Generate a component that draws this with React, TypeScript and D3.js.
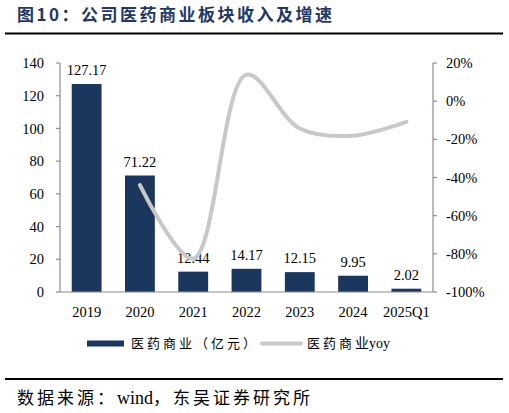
import { useRef, useEffect } from "react";
import * as d3 from "d3";

const categories = ["2019", "2020", "2021", "2022", "2023", "2024", "2025Q1"];
const revenue = [127.17, 71.22, 12.44, 14.17, 12.15, 9.95, 2.02];
const yoy: (number | null)[] = [null, -0.44, -0.825, 0.139, -0.143, -0.181, -0.108];
const leftTicks = [0, 20, 40, 60, 80, 100, 120, 140];
const rightTicks = [-1, -0.8, -0.6, -0.4, -0.2, 0, 0.2];

const W = 509;
const H = 413;
const BAR = "#1c375d";
const LINE = "#c8c8c8";
const AXIS = "#8c8c8c";
const NUM_FONT = "'Liberation Serif', 'Times New Roman', serif";
const CJK_FONT = "'Noto Sans CJK SC', sans-serif";
const MIX_FONT = "'Liberation Serif', 'Noto Sans CJK SC', serif";

export default function App() {
  const svgRef = useRef<SVGSVGElement>(null);

  useEffect(() => {
    if (!svgRef.current) return;
    const svg = d3.select(svgRef.current);
    svg.selectAll("*").remove();

    const plot = { left: 60, right: 433, top: 63, bottom: 292 };

    const x = d3.scaleBand<string>()
      .domain(categories)
      .range([plot.left, plot.right])
      .paddingInner(0.44)
      .paddingOuter(0.22);
    const yL = d3.scaleLinear().domain([0, 140]).range([plot.bottom, plot.top]);
    const yR = d3.scaleLinear().domain([-1, 0.2]).range([plot.bottom, plot.top]);

    // title
    svg.append("text")
      .attr("x", 17)
      .attr("y", 21)
      .attr("font-family", CJK_FONT)
      .attr("font-weight", "bold")
      .attr("font-size", 17)
      .attr("letter-spacing", 2.5)
      .attr("fill", "#1f3864")
      .text("图10：公司医药商业板块收入及增速");

    svg.append("line")
      .attr("x1", 5).attr("x2", 503)
      .attr("y1", 33.5).attr("y2", 33.5)
      .attr("stroke", "#000").attr("stroke-width", 2);

    // bars
    const g = svg.append("g");
    g.selectAll("rect.bar")
      .data(revenue)
      .join("rect")
      .attr("class", "bar")
      .attr("x", (_, i) => x(categories[i])!)
      .attr("y", (d) => yL(d))
      .attr("width", x.bandwidth())
      .attr("height", (d) => yL(0) - yL(d))
      .attr("fill", BAR);

    // bar labels
    g.selectAll("text.lbl")
      .data(revenue)
      .join("text")
      .attr("class", "lbl")
      .attr("x", (_, i) => x(categories[i])! + x.bandwidth() / 2)
      .attr("y", (d) => yL(d) - 9)
      .attr("text-anchor", "middle")
      .attr("font-family", NUM_FONT)
      .attr("font-size", 14.5)
      .attr("fill", "#000")
      .text((d) => d.toFixed(2));

    // yoy line
    const pts = yoy
      .map((v, i) => ({ v, c: categories[i] }))
      .filter((d) => d.v !== null) as { v: number; c: string }[];
    const line = d3.line<{ v: number; c: string }>()
      .x((d) => x(d.c)! + x.bandwidth() / 2)
      .y((d) => yR(d.v))
      .curve(d3.curveCatmullRom.alpha(0.5));
    g.append("path")
      .datum(pts)
      .attr("d", line)
      .attr("fill", "none")
      .attr("stroke", LINE)
      .attr("stroke-width", 4)
      .attr("stroke-linecap", "round");

    // axes
    const axisLine = (x1: number, y1: number, x2: number, y2: number) =>
      g.append("line")
        .attr("x1", x1).attr("y1", y1).attr("x2", x2).attr("y2", y2)
        .attr("stroke", AXIS).attr("stroke-width", 1.2);

    axisLine(plot.left, plot.top, plot.left, plot.bottom);
    axisLine(plot.right, plot.top, plot.right, plot.bottom);
    axisLine(plot.left, plot.bottom, plot.right, plot.bottom);

    leftTicks.forEach((t) => {
      axisLine(plot.left - 4, yL(t), plot.left, yL(t));
      g.append("text")
        .attr("x", 44)
        .attr("y", yL(t))
        .attr("dy", "0.35em")
        .attr("text-anchor", "end")
        .attr("font-family", NUM_FONT)
        .attr("font-size", 14.5)
        .attr("fill", "#000")
        .text(t);
    });

    rightTicks.forEach((t) => {
      axisLine(plot.right, yR(t), plot.right + 4, yR(t));
      g.append("text")
        .attr("x", 446)
        .attr("y", yR(t))
        .attr("dy", "0.35em")
        .attr("font-family", NUM_FONT)
        .attr("font-size", 14.5)
        .attr("fill", "#000")
        .text(`${Math.round(t * 100)}%`);
    });

    categories.forEach((c) => {
      g.append("text")
        .attr("x", x(c)! + x.bandwidth() / 2)
        .attr("y", 317)
        .attr("text-anchor", "middle")
        .attr("font-family", NUM_FONT)
        .attr("font-size", 14.5)
        .attr("fill", "#000")
        .text(c);
    });

    // legend
    const lg = svg.append("g");
    lg.append("rect")
      .attr("x", 87).attr("y", 340.5)
      .attr("width", 37).attr("height", 6)
      .attr("fill", BAR);
    lg.append("text")
      .attr("x", 131).attr("y", 348)
      .attr("font-family", CJK_FONT)
      .attr("font-size", 13)
      .attr("letter-spacing", 3)
      .attr("fill", "#000")
      .text("医药商业（亿元）");
    lg.append("line")
      .attr("x1", 262).attr("x2", 301)
      .attr("y1", 343.5).attr("y2", 343.5)
      .attr("stroke", LINE).attr("stroke-width", 4)
      .attr("stroke-linecap", "round");
    const t2 = lg.append("text")
      .attr("x", 307).attr("y", 348)
      .attr("font-size", 13)
      .attr("fill", "#000");
    t2.append("tspan").attr("font-family", CJK_FONT).attr("letter-spacing", 3).text("医药商");
    t2.append("tspan").attr("font-family", MIX_FONT).attr("font-size", 14).text("业yoy");

    // footer
    svg.append("line")
      .attr("x1", 5).attr("x2", 503)
      .attr("y1", 379).attr("y2", 379)
      .attr("stroke", "#000").attr("stroke-width", 2);
    const src = svg.append("text")
      .attr("x", 17).attr("y", 404)
      .attr("font-size", 17)
      .attr("fill", "#000");
    src.append("tspan").attr("font-family", CJK_FONT).attr("letter-spacing", 3).text("数据来源：");
    src.append("tspan").attr("font-family", NUM_FONT).attr("font-size", 18).text("wind");
    src.append("tspan").attr("font-family", CJK_FONT).attr("letter-spacing", 3).text("，东吴证券研究所");
  }, []);

  return (
    <svg
      ref={svgRef}
      width={W}
      height={H}
      style={{ position: "absolute", left: 0, top: 0, background: "#fff" }}
    />
  );
}
